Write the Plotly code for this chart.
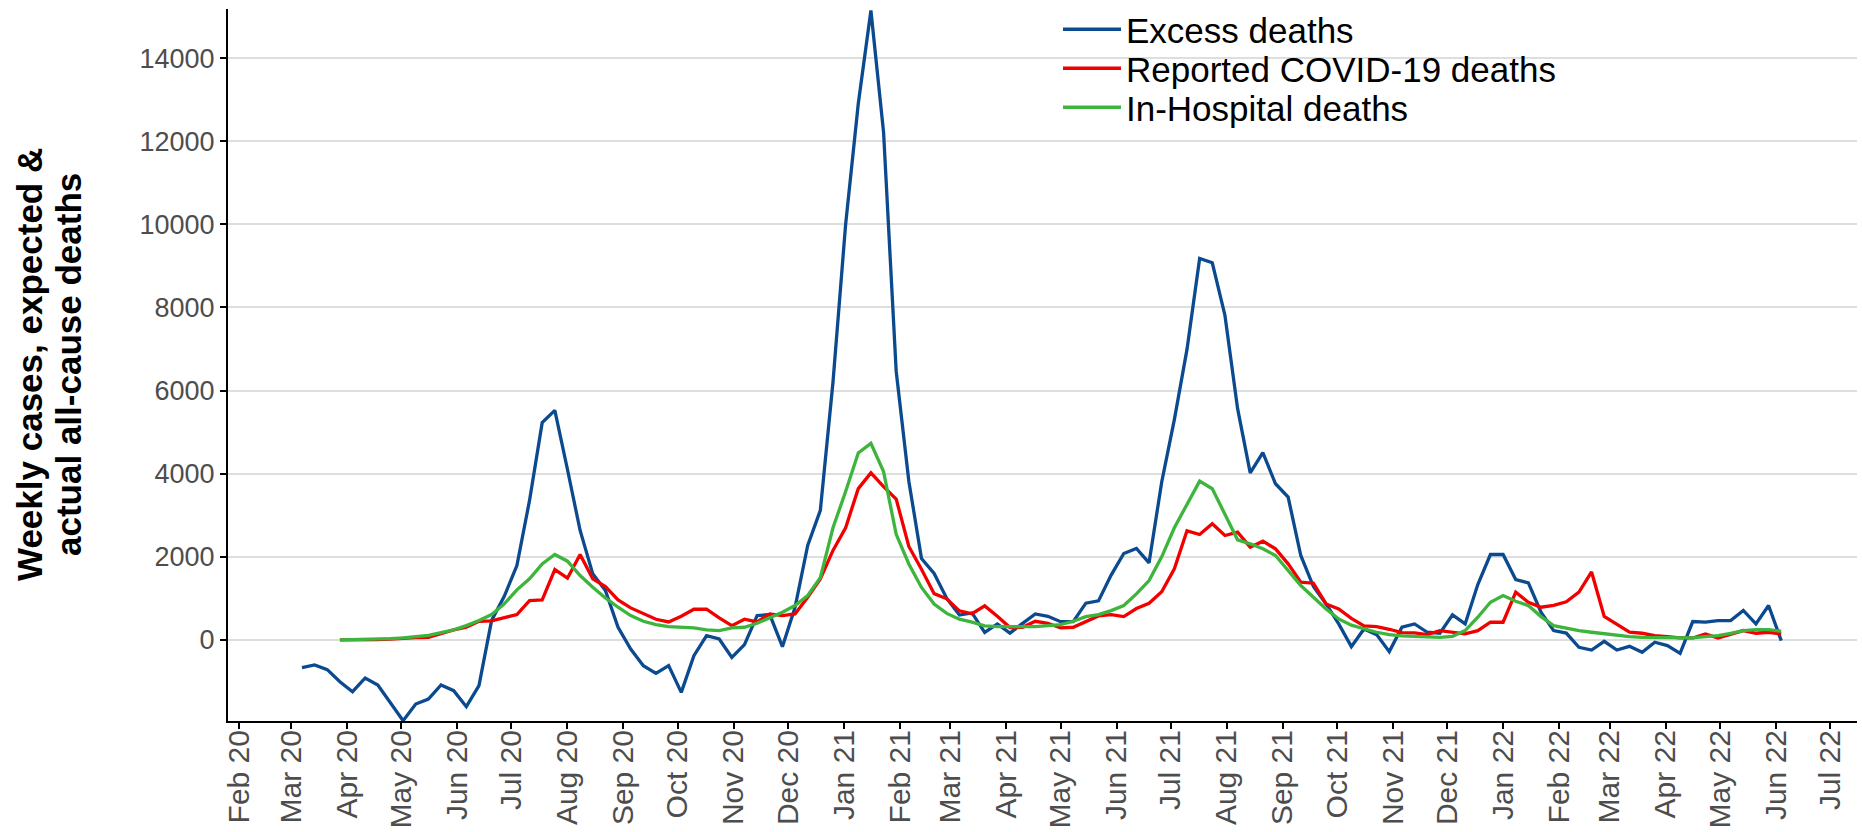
import pandas as pd
import plotly.graph_objects as go

# ---------------- data (weekly) ----------------
excess_start = "2020-03-07"
covid_start = "2020-03-28"

excess_deaths = [
    -667, -602, -715, -1004, -1245, -915, -1084, -1502, -1943, -1542,
    -1421, -1084, -1221, -1606, -1100, 470, 1050, 1790, 3357, 5228,
    5525, 4100, 2634, 1590, 1188, 305, -217, -618, -803, -618,
    -1261, -377, 104, 24, -418, -112, 586, 610, -161, 787,
    2272, 3116, 6200, 10000, 12900, 15144, 12220, 6460, 3820, 1960,
    1600, 1000, 600, 650, 180, 385, 165, 400, 625, 570,
    440, 440, 885, 940, 1560, 2080, 2200, 1855, 3800, 5300,
    6990, 9178, 9074, 7813, 5570, 4020, 4505, 3758, 3437, 2032,
    1285, 867, 385, -161, 265, 128, -281, 305, 385, 185,
    161, 602, 385, 1333, 2056, 2056, 1453, 1373, 666, 225,
    165, -177, -242, -32, -242, -153, -298, -56, -137, -322,
    443, 427, 467, 467, 709, 387, 830, -16,
]

reported_covid_deaths = [
    0, 0, 5, 10, 20, 40, 56, 60, 145, 241,
    305, 450, 460, 530, 610, 948, 964, 1694, 1486, 2056,
    1470, 1285, 964, 771, 626, 498, 434, 570, 739, 739,
    530, 345, 498, 434, 626, 586, 626, 1028, 1470, 2155,
    2700, 3640, 4020, 3690, 3390, 2250, 1700, 1114, 990, 700,
    630, 820, 570, 300, 305, 450, 401, 289, 305, 450,
    578, 610, 562, 755, 883, 1160, 1710, 2625, 2537, 2794,
    2513, 2594, 2232, 2377, 2192, 1831, 1389, 1365, 867, 747,
    520, 340, 321, 257, 177, 169, 128, 225, 193, 145,
    225, 426, 426, 1148, 907, 787, 830, 920, 1153, 1636,
    564, 363, 185, 161, 105, 81, 48, 48, 145, 48,
    129, 226, 161, 185, 145,
]

in_hospital_deaths = [
    0, 5, 16, 24, 32, 48, 80, 112, 177, 241,
    345, 466, 610, 867, 1205, 1470, 1831, 2056, 1895, 1550,
    1269, 1012, 787, 586, 450, 369, 321, 305, 289, 241,
    225, 289, 305, 401, 530, 666, 827, 1068, 1500, 2700,
    3570, 4500, 4730, 4050, 2540, 1829, 1263, 866, 638, 500,
    430, 340, 321, 321, 305, 321, 345, 369, 450, 562,
    610, 706, 827, 1108, 1429, 2000, 2700, 3280, 3822, 3638,
    3035, 2409, 2313, 2192, 2032, 1670, 1309, 1028, 747, 506,
    355, 270, 185, 128, 96, 88, 80, 64, 88, 225,
    546, 907, 1068, 931, 827, 562, 345, 280, 226, 185,
    145, 105, 81, 64, 64, 48, 48, 48, 81, 105,
    161, 226, 250, 250, 210,
]

series_names = ["Excess deaths", "Reported COVID-19 deaths", "In-Hospital deaths"]
series_colors = ["#0B4A8E", "#F20000", "#3DB53D"]
y_ticks = [0, 2000, 4000, 6000, 8000, 10000, 12000, 14000]
y_title_lines = ["Weekly cases, expected &", "actual all-cause deaths"]

excess_dates = pd.date_range(excess_start, periods=len(excess_deaths), freq="7D")
covid_dates = pd.date_range(covid_start, periods=len(reported_covid_deaths), freq="7D")

FONT = "Liberation Sans, Arial, sans-serif"
W, H = 1862, 832
L, R, T, B = 228, 5, 9, 111
PW = W - L - R

fig = go.Figure()
series = [(excess_dates, excess_deaths), (covid_dates, reported_covid_deaths),
          (covid_dates, in_hospital_deaths)]
legend_ids = ["legend", "legend2", "legend3"]
for (xs, ys), name, col, lg in zip(series, series_names, series_colors, legend_ids):
    fig.add_trace(go.Scatter(x=xs, y=ys, mode="lines", name=name,
                             line=dict(color=col, width=3.3), legend=lg))

# white vertical month lines breaking the horizontal grid (as in the reference)
months = pd.date_range("2020-02-01", "2022-07-01", freq="MS")
shapes = [dict(type="line", xref="x", yref="paper", x0=m, x1=m, y0=0, y1=1,
               line=dict(color="white", width=3), layer="between") for m in months]
# legend background (hides the grid line behind the legend)
shapes.append(dict(type="rect", xref="paper", yref="y",
                   x0=(1041 - L) / PW, x1=(1561 - L) / PW, y0=13400, y1=14600,
                   fillcolor="white", line=dict(width=0), layer="between"))

legend_rows_y = [29.5, 68.5, 107.5]
legend_left = 1058
def legend_cfg(row):
    return dict(xref="container", yref="container", x=legend_left / W,
                y=1 - legend_rows_y[row] / H, xanchor="left", yanchor="middle",
                bgcolor="rgba(0,0,0,0)", borderwidth=0, itemwidth=58,
                font=dict(family=FONT, size=35, color="black"))

annotations = []
for txt, cx in zip(y_title_lines, [29, 68]):
    annotations.append(dict(text="<b>" + txt + "</b>", xref="paper", yref="paper",
                            x=(cx - L) / PW, y=0.5, xanchor="center",
                            yanchor="middle", textangle=-90, showarrow=False,
                            font=dict(family=FONT, size=35, color="black")))

fig.update_layout(
    width=W, height=H,
    margin=dict(l=L, r=R, t=T, b=B, autoexpand=False),
    plot_bgcolor="white", paper_bgcolor="white",
    font=dict(family=FONT, color="#4D4D4D"),
    showlegend=True,
    legend=legend_cfg(0), legend2=legend_cfg(1), legend3=legend_cfg(2),
    shapes=shapes,
    annotations=annotations,
    xaxis=dict(type="date",
               range=["2020-01-26 01:12", "2022-07-15 22:48"],
               tick0="2020-02-01", dtick="M1", tickformat="%b %y",
               tickangle=-90, ticks="outside", ticklen=6, tickwidth=2, tickcolor="black",
               ticklabelstandoff=-11,
               tickfont=dict(family=FONT, size=30, color="#4D4D4D"),
               showgrid=False, showline=True, linecolor="black", linewidth=2,
               zeroline=False, automargin=False),
    yaxis=dict(range=[-1950, 15180], tickvals=y_ticks, tickformat="d",
               ticks="outside", ticklen=6, tickwidth=2, tickcolor="black",
               tickfont=dict(family=FONT, size=27, color="#4D4D4D"),
               showgrid=True, gridcolor="#DEDEDE", gridwidth=2,
               showline=True, linecolor="black", linewidth=2,
               zeroline=False, automargin=False),
)

fig.write_html("out.html", config={"displayModeBar": False},
               post_script="document.body.style.margin='0';")
